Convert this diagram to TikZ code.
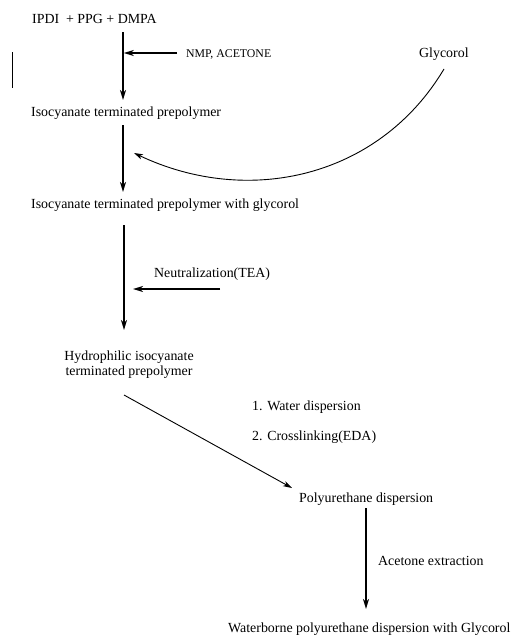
\documentclass[tikz,border=0pt]{standalone}
\usepackage{fontspec}
\setmainfont{Liberation Serif}
\usetikzlibrary{arrows.meta}
\begin{document}
\begin{tikzpicture}[x=1pt,y=-1pt,
  txt/.style={inner sep=0pt,anchor=base west,font=\fontsize{13.9}{15}\selectfont},
  smalltxt/.style={inner sep=0pt,anchor=base west,font=\fontsize{11.8}{13}\selectfont},
  thickarrow/.style={line width=1.6pt,-{Stealth[length=10pt,width=6pt,inset=3pt]}},
  thinarrow/.style={line width=0.9pt,-{Stealth[length=9pt,width=5.5pt,inset=2.5pt]}}]
\useasboundingbox (0,0) rectangle (517,640);
% texts
\node[txt] (start) at (32,23) {IPDI\ \ + PPG + DMPA};
\node[smalltxt] (nmp) at (186,57) {NMP, ACETONE};
\node[txt] (gly) at (419,57) {Glycorol};
\node[txt] (pre) at (31,116) {Isocyanate terminated prepolymer};
\node[txt] (preg) at (31,208) {Isocyanate terminated prepolymer with glycorol};
\node[txt] (neut) at (154,277) {Neutralization(TEA)};
\node[txt,align=center,anchor=north] (hyd) at (129,351) {Hydrophilic isocyanate\\terminated prepolymer};
\node[txt] (wd) at (252,410) {1. Water dispersion};
\node[txt] (cl) at (252,440) {2. Crosslinking(EDA)};
\node[txt] (pud) at (299,502) {Polyurethane dispersion};
\node[txt] (ace) at (378,565) {Acetone extraction};
\node[txt] (wpu) at (228,632) {Waterborne polyurethane dispersion with Glycorol};
% arrow end points
\coordinate (a1s) at (123,32);
\coordinate (a1e) at (123,100);
\coordinate (n1s) at (177,53);
\coordinate (n1e) at (123.8,53);
\coordinate (a2s) at (123,125);
\coordinate (a2e) at (123,192);
\coordinate (gs) at (444,69);
\coordinate (ge) at (134,153);
\coordinate (a3s) at (124,225);
\coordinate (a3e) at (124,330);
\coordinate (n3s) at (220,289);
\coordinate (n3e) at (133,289);
\coordinate (ds) at (124,395);
\coordinate (de) at (292,488);
\coordinate (a4s) at (366,508);
\coordinate (a4e) at (366,609);
% connectors
\draw[thickarrow] (a1s) -- (a1e);
\draw[thickarrow] (n1s) -- (n1e);
\draw[line width=1.2pt] (12.5,52) -- (12.5,88);
\draw[thickarrow] (a2s) -- (a2e);
\draw[thinarrow] (gs) .. controls (379,178) and (248,207) .. (ge);
\draw[thickarrow] (a3s) -- (a3e);
\draw[thickarrow] (n3s) -- (n3e);
\draw[thinarrow] (ds) -- (de);
\draw[thickarrow] (a4s) -- (a4e);
\end{tikzpicture}
\end{document}
